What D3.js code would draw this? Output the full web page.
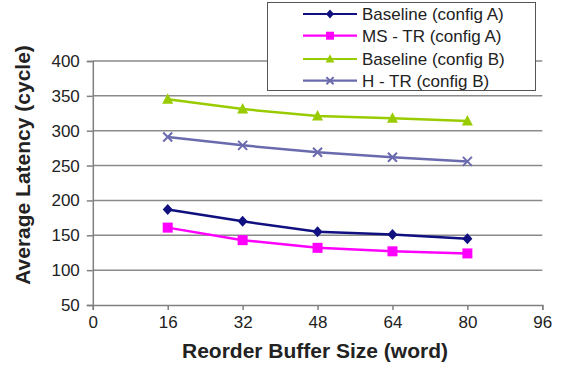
<!DOCTYPE html>
<html><head><meta charset="utf-8">
<script src="https://cdn.jsdelivr.net/npm/d3@7"></script>
<style>body{margin:0;background:#fff;} text{font-family:"Liberation Sans",Arial,sans-serif;}</style>
</head><body><svg id="c" width="564" height="371"></svg>
<script>
const xValues = [16, 32, 48, 64, 80];
const baselineA = [187, 170, 155, 151, 145];
const msTrA = [161, 143, 132, 127, 124];
const baselineB = [345, 331, 321, 318, 314];
const hTrB = [291, 279, 269, 262, 256];
const xTicks = [0, 16, 32, 48, 64, 80, 96];
const yTicks = [50, 100, 150, 200, 250, 300, 350, 400];
const seriesNames = ["Baseline (config A)", "MS - TR (config A)", "Baseline (config B)", "H - TR (config B)"];
const seriesColors = ["#101080", "#ff00ff", "#99cc00", "#6a6aae"];
const seriesMarkers = ["diamond", "square", "triangle", "cross"];
const seriesData = [baselineA, msTrA, baselineB, hTrB];

const svg = d3.select("#c");
const x = d3.scaleLinear().domain([0, 96]).range([92.8, 542.3]);
const y = d3.scaleLinear().domain([50, 400]).range([305, 61]);

// gridlines
svg.append("g").selectAll("line").data(yTicks.filter(d => d > 50)).join("line")
  .attr("x1", x(0)).attr("x2", x(96)).attr("y1", d => y(d)).attr("y2", d => y(d))
  .attr("stroke", "#8a8a8a").attr("stroke-width", 1.5);

// y axis
const yAxis = svg.append("g").attr("transform", `translate(${x(0)},0)`)
  .call(d3.axisLeft(y).tickValues(yTicks).tickSize(6).tickPadding(7));
yAxis.select(".domain").attr("stroke", "#808080").attr("stroke-width", 1.5);
yAxis.selectAll(".tick line").attr("stroke", "#808080").attr("stroke-width", 1.5);
yAxis.selectAll(".tick text").attr("font-size", 17).attr("fill", "#222")
  .attr("font-family", "Liberation Sans, Arial, sans-serif");

// x axis
const xAxis = svg.append("g").attr("transform", `translate(0,${y(50)})`)
  .call(d3.axisBottom(x).tickValues(xTicks).tickSize(5).tickPadding(6));
xAxis.select(".domain").attr("stroke", "#808080").attr("stroke-width", 1.5);
xAxis.selectAll(".tick line").attr("stroke", "#808080").attr("stroke-width", 1.5);
xAxis.selectAll(".tick text").attr("font-size", 17).attr("fill", "#222")
  .attr("font-family", "Liberation Sans, Arial, sans-serif");

// titles
svg.append("text").attr("x", 315).attr("y", 358).attr("text-anchor", "middle")
  .attr("font-size", 21).attr("font-weight", "bold").attr("fill", "#222")
  .text("Reorder Buffer Size (word)");
svg.append("text").attr("transform", "translate(30,165) rotate(-90)").attr("text-anchor", "middle")
  .attr("font-size", 21).attr("font-weight", "bold").attr("fill", "#222")
  .text("Average Latency (cycle)");

function drawMarker(g, type, color, cx, cy, k) {
  if (type === "diamond") {
    g.append("path").attr("d", `M${cx},${cy-5.5*k}L${cx+5*k},${cy}L${cx},${cy+5.5*k}L${cx-5*k},${cy}Z`).attr("fill", color);
  } else if (type === "square") {
    g.append("rect").attr("x", cx-5*k).attr("y", cy-5*k).attr("width", 10*k).attr("height", 10*k).attr("fill", color);
  } else if (type === "triangle") {
    g.append("path").attr("d", `M${cx},${cy-6*k}L${cx+5.5*k},${cy+4.5*k}L${cx-5.5*k},${cy+4.5*k}Z`).attr("fill", color);
  } else {
    g.append("path").attr("d", `M${cx-4.5*k},${cy-4.5*k}L${cx+4.5*k},${cy+4.5*k}M${cx-4.5*k},${cy+4.5*k}L${cx+4.5*k},${cy-4.5*k}`)
      .attr("stroke", color).attr("stroke-width", 2).attr("fill", "none");
  }
}

const line = d3.line().x((d, i) => x(xValues[i])).y(d => y(d));
seriesData.forEach((data, s) => {
  const g = svg.append("g");
  g.append("path").attr("d", line(data)).attr("fill", "none")
    .attr("stroke", seriesColors[s]).attr("stroke-width", 2.5);
  data.forEach((v, i) => drawMarker(g, seriesMarkers[s], seriesColors[s], x(xValues[i]), y(v), 1));
});

// legend
const lg = svg.append("g");
lg.append("rect").attr("x", 267.5).attr("y", 2.5).attr("width", 268).attr("height", 88)
  .attr("fill", "#fff").attr("stroke", "#555").attr("stroke-width", 1);
const rowsY = [14, 35.7, 59, 80.7];
seriesNames.forEach((name, s) => {
  const ry = rowsY[s];
  lg.append("line").attr("x1", 303).attr("x2", 357).attr("y1", ry).attr("y2", ry)
    .attr("stroke", seriesColors[s]).attr("stroke-width", 2.2);
  drawMarker(lg, seriesMarkers[s], seriesColors[s], 330, ry, 0.8);
  lg.append("text").attr("x", 362).attr("y", ry + 6).attr("font-size", 17).attr("fill", "#222").text(name);
});
</script></body></html>
